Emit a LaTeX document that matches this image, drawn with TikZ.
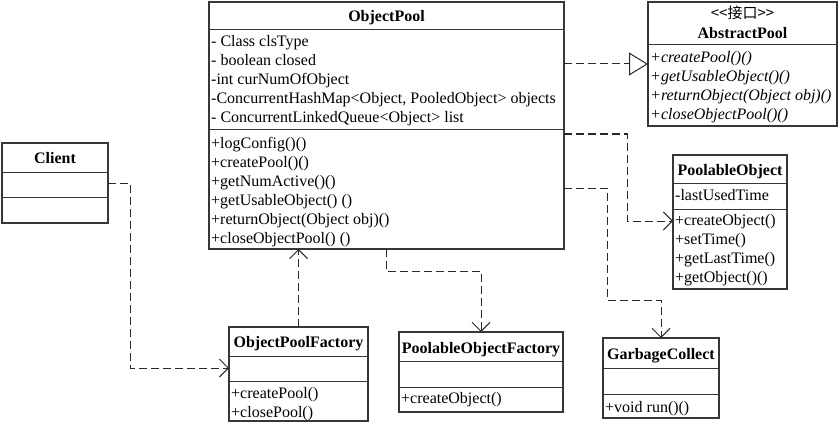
\documentclass[tikz,border=0pt]{standalone}
\usepackage{fontspec}
\setmainfont{Liberation Serif}
\newfontfamily\cjk{Noto Sans CJK SC}
\usetikzlibrary{arrows.meta}
\definecolor{edge}{RGB}{55,55,55}
\definecolor{conn}{RGB}{40,40,40}
\begin{document}
\begin{tikzpicture}[x=1pt,y=-1pt,
  box/.style={draw=edge,line width=1.1pt,fill=white,anchor=north west,inner sep=0,outer sep=0},
  sep/.style={draw=edge,line width=1pt},
  txt/.style={anchor=base west,inner sep=0,font=\fontsize{16}{19}\selectfont},
  itxt/.style={txt,font=\fontsize{16}{19}\selectfont\itshape},
  ttl/.style={anchor=base,inner sep=0,font=\fontsize{16}{19}\selectfont\bfseries},
  dep/.style={draw=conn,line width=1pt,dash pattern=on 8pt off 4pt},
  vee/.style={-{Straight Barb[length=9pt,width=18pt,line width=1pt]}},
  realize/.style={-{Triangle[open,length=19pt,width=23pt,line width=1pt,fill=white]}}
]
\useasboundingbox[fill=white] (0,0) rectangle (840,425);

% ---------------- ObjectPool
\node[box,minimum width=355pt,minimum height=247pt] (op) at (209,2) {};
\draw[sep] (op.west |- 0,30) -- (op.east |- 0,30);
\draw[sep] (op.west |- 0,130) -- (op.east |- 0,130);
\node[ttl] at (386.5,22) {ObjectPool};
\node[txt] at (211,47) {- Class clsType};
\node[txt] at (211,66) {- boolean closed};
\node[txt] at (211,85) {-int curNumOfObject};
\node[txt] at (211,104) {-ConcurrentHashMap<Object, PooledObject> objects};
\node[txt] at (211,123) {- ConcurrentLinkedQueue<Object> list};
\node[txt] at (211,148) {+logConfig()()};
\node[txt] at (211,167) {+createPool()()};
\node[txt] at (211,186) {+getNumActive()()};
\node[txt] at (211,205) {+getUsableObject() ()};
\node[txt] at (211,224) {+returnObject(Object obj)()};
\node[txt] at (211,243) {+closeObjectPool() ()};

% ---------------- AbstractPool
\node[box,minimum width=189pt,minimum height=124pt] (ab) at (648,2) {};
\draw[sep] (ab.west |- 0,45) -- (ab.east |- 0,45);
\node[anchor=base,inner sep=0,font=\cjk\fontsize{15}{18}\selectfont] at (742.5,19) {<<接口>>};
\node[ttl] at (742.5,39) {AbstractPool};
\node[itxt] at (650,63) {+createPool()()};
\node[itxt] at (650,82) {+getUsableObject()()};
\node[itxt] at (650,101) {+returnObject(Object obj)()};
\node[itxt] at (650,120) {+closeObjectPool()()};

% ---------------- PoolableObject
\node[box,minimum width=114pt,minimum height=134pt] (po) at (673,155) {};
\draw[sep] (po.west |- 0,183) -- (po.east |- 0,183);
\draw[sep] (po.west |- 0,209) -- (po.east |- 0,209);
\node[ttl] at (730,175) {PoolableObject};
\node[txt] at (675,200) {-lastUsedTime};
\node[txt] at (675,225) {+createObject()};
\node[txt] at (675,244) {+setTime()};
\node[txt] at (675,263) {+getLastTime()};
\node[txt] at (675,282) {+getObject()()};

% ---------------- Client
\node[box,minimum width=106pt,minimum height=80pt] (cl) at (2,143) {};
\draw[sep] (cl.west |- 0,172) -- (cl.east |- 0,172);
\draw[sep] (cl.west |- 0,197) -- (cl.east |- 0,197);
\node[ttl] at (55,163) {Client};

% ---------------- ObjectPoolFactory
\node[box,minimum width=139pt,minimum height=94pt] (opf) at (229,327) {};
\draw[sep] (opf.west |- 0,356) -- (opf.east |- 0,356);
\draw[sep] (opf.west |- 0,381) -- (opf.east |- 0,381);
\node[ttl] at (298.5,347) {ObjectPoolFactory};
\node[txt] at (231,398) {+createPool()};
\node[txt] at (231,417) {+closePool()};

% ---------------- PoolableObjectFactory
\node[box,minimum width=164pt,minimum height=80pt] (pof) at (399,332) {};
\draw[sep] (pof.west |- 0,361) -- (pof.east |- 0,361);
\draw[sep] (pof.west |- 0,387) -- (pof.east |- 0,387);
\node[ttl] at (481,353) {PoolableObjectFactory};
\node[txt] at (401,403) {+createObject()};

% ---------------- GarbageCollect
\node[box,minimum width=116pt,minimum height=80pt] (gc) at (603,338) {};
\draw[sep] (gc.west |- 0,368) -- (gc.east |- 0,368);
\draw[sep] (gc.west |- 0,394) -- (gc.east |- 0,394);
\node[ttl] at (661,359) {GarbageCollect};
\node[txt] at (605,412) {+void run()()};

% ---------------- bend points
\coordinate (b1) at (627,134);
\coordinate (b2) at (627,221);
\coordinate (b3) at (607,188);
\coordinate (b4) at (607,300);
\coordinate (b5) at (386,249);
\coordinate (b6) at (481,271);
\coordinate (b7) at (130,183);
\coordinate (b8) at (130,368);

% ---------------- connectors
\draw[dep,realize] (op.east |- ab.west) -- (ab.west);
\draw[dep,vee] (op.east |- b1) -- (b1) -- (b2) -- (po.west |- b2);
\draw[dep,vee] (op.east |- b3) -- (b3) -- (b4) -| (gc.north);
\draw[dep,vee] (b5) |- (b6) -- (pof.north);
\draw[dep,vee] (opf.north) -- (opf.north |- op.south);
\draw[dep,vee] (cl.east) -- (b7) -- (b8) -- (opf.west |- b8);
\end{tikzpicture}
\end{document}
